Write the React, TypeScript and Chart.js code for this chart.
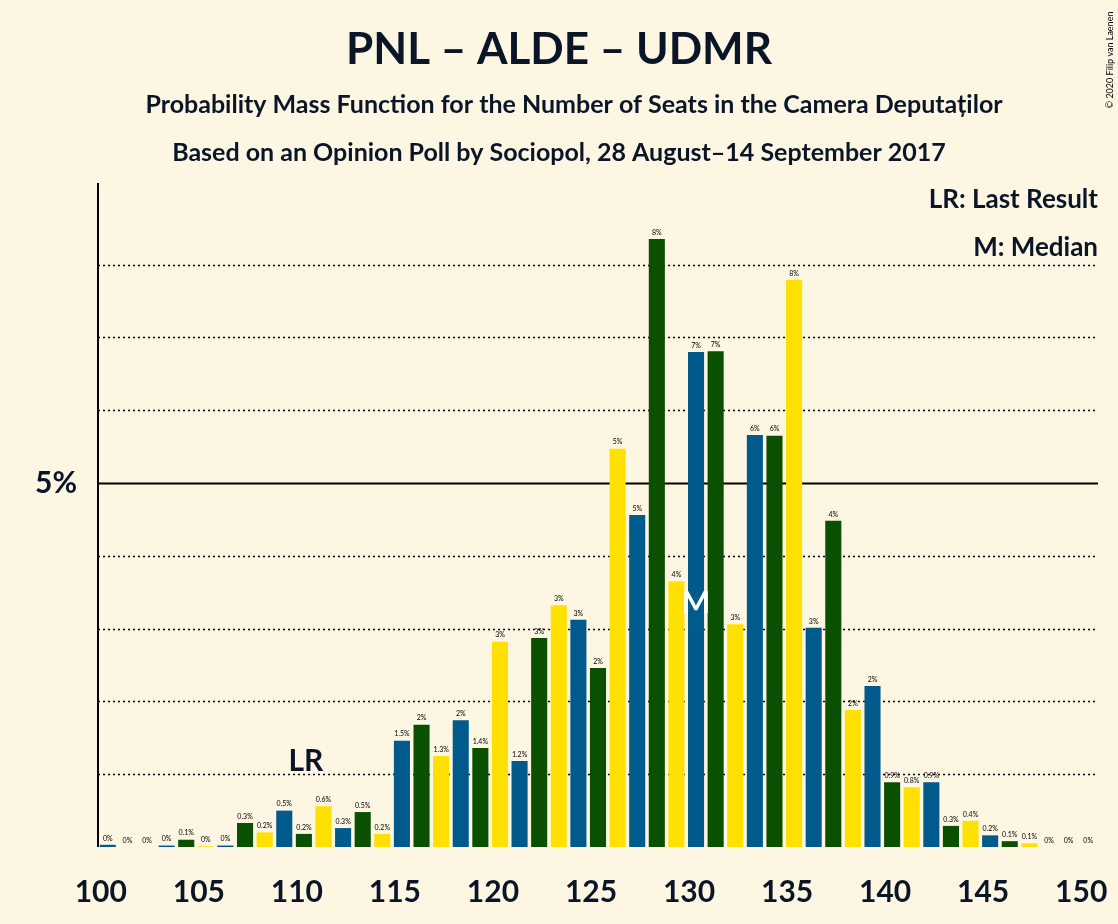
import React, { useEffect, useRef } from "react";
import { Chart, registerables } from "chart.js";
Chart.register(...registerables);

const seats = Array.from({ length: 51 }, (_, i) => String(100 + i));
const values = [
  0.03, 0, 0, 0.02, 0.1, 0.01, 0.02, 0.33, 0.2, 0.5,
  0.18, 0.56, 0.26, 0.48, 0.18, 1.46, 1.68, 1.25, 1.74, 1.36,
  2.82, 1.18, 2.87, 3.32, 3.12, 2.46, 5.47, 4.56, 8.35, 3.65,
  6.8, 6.81, 3.06, 5.66, 5.65, 7.79, 3.01, 4.48, 1.88, 2.21,
  0.89, 0.82, 0.89, 0.29, 0.36, 0.16, 0.08, 0.05, 0, 0, 0,
];
const xTicks = ["100", "105", "110", "115", "120", "125", "130", "135", "140", "145", "150"];
const partyColors = ["#FFE000", "#005A8C", "#0B5000"]; // seat mod 3 = 0,1,2
const lastResult = "110";
const median = "130";

function label(v: number) {
  if (v < 0.05) return "0%";
  if (v < 1.55) return v.toFixed(1) + "%";
  return Math.round(v) + "%";
}

export default function App() {
  const ref = useRef<HTMLCanvasElement>(null);
  useEffect(() => {
    document.body.style.margin = "0";
    const F = "Lato, 'DejaVu Sans', sans-serif";
    const plugin = {
      id: "deco",
      beforeDraw(c: any) {
        const ctx = c.ctx;
        ctx.save();
        ctx.fillStyle = "#FDF6E3";
        ctx.fillRect(0, 0, c.width, c.height);
        const y = c.scales.y, a = c.chartArea;
        for (let v = 1; v <= 8; v++) {
          const py = Math.round(y.getPixelForValue(v)) + 0.5;
          ctx.beginPath();
          ctx.strokeStyle = "#000";
          if (v === 5) { ctx.setLineDash([]); ctx.lineWidth = 2; }
          else { ctx.setLineDash([2, 3]); ctx.lineWidth = 1.5; }
          ctx.moveTo(a.left, py); ctx.lineTo(a.right, py); ctx.stroke();
        }
        ctx.setLineDash([]);
        ctx.lineWidth = 2;
        ctx.beginPath(); ctx.moveTo(a.left, a.top); ctx.lineTo(a.left, a.bottom); ctx.stroke();
        ctx.restore();
      },
      afterDatasetsDraw(c: any) {
        const ctx = c.ctx, x = c.scales.x, y = c.scales.y;
        ctx.save();
        ctx.fillStyle = "#000";
        ctx.textAlign = "center";
        ctx.textBaseline = "bottom";
        ctx.font = `7px ${F}`;
        values.forEach((v, i) => {
          ctx.fillText(label(v), x.getPixelForValue(i), y.getPixelForValue(v) - 3);
        });
        ctx.textBaseline = "middle";
        ctx.fillStyle = "#0A1628";
        ctx.font = `bold 30px ${F}`;
        xTicks.forEach((t) => ctx.fillText(t, x.getPixelForValue(seats.indexOf(t)) - 7, 892));
        ctx.textAlign = "right";
        ctx.fillText("5%", 77, y.getPixelForValue(5));
        ctx.textAlign = "center";
        ctx.font = `bold 30px ${F}`;
        const li = seats.indexOf(lastResult);
        ctx.fillText("LR", x.getPixelForValue(li) + 2, y.getPixelForValue(1.17));
        const mi = seats.indexOf(median);
        ctx.fillStyle = "#fff";
        ctx.fillText("M", x.getPixelForValue(mi), y.getPixelForValue(3.35));
        ctx.fillStyle = "#0A1628";
        ctx.font = `bold 44px ${F}`;
        ctx.fillText("PNL – ALDE – UDMR", 559, 50);
        ctx.font = `bold 25px ${F}`;
        ctx.fillText("Probability Mass Function for the Number of Seats in the Camera Deputaților", 574, 105);
        ctx.fillText("Based on an Opinion Poll by Sociopol, 28 August–14 September 2017", 559, 153);
        ctx.textAlign = "right";
        ctx.font = `bold 26px ${F}`;
        ctx.fillText("LR: Last Result", 1098, 200);
        ctx.fillText("M: Median", 1098, 248);
        ctx.fillStyle = "#000";
        ctx.translate(1110, 60);
        ctx.rotate(-Math.PI / 2);
        ctx.textAlign = "center";
        ctx.font = `9px ${F}`;
        ctx.fillText("© 2020 Filip van Laenen", 0, 0);
        ctx.restore();
      },
    };
    const chart = new Chart(ref.current!, {
      type: "bar",
      data: {
        labels: seats,
        datasets: [{
          data: values,
          backgroundColor: seats.map((s) => partyColors[Number(s) % 3]),
          categoryPercentage: 1,
          barPercentage: 0.82,
        }],
      },
      options: {
        responsive: false,
        animation: false,
        layout: { padding: { left: 98, right: 20, top: 183, bottom: 77 } },
        plugins: { legend: { display: false }, tooltip: { enabled: false } },
        scales: {
          x: { display: false },
          y: { display: false, min: 0, max: 9.12 },
        },
      },
      plugins: [plugin],
    });
    return () => chart.destroy();
  }, []);
  return <canvas ref={ref} width={1118} height={924} style={{ display: "block" }} />;
}
